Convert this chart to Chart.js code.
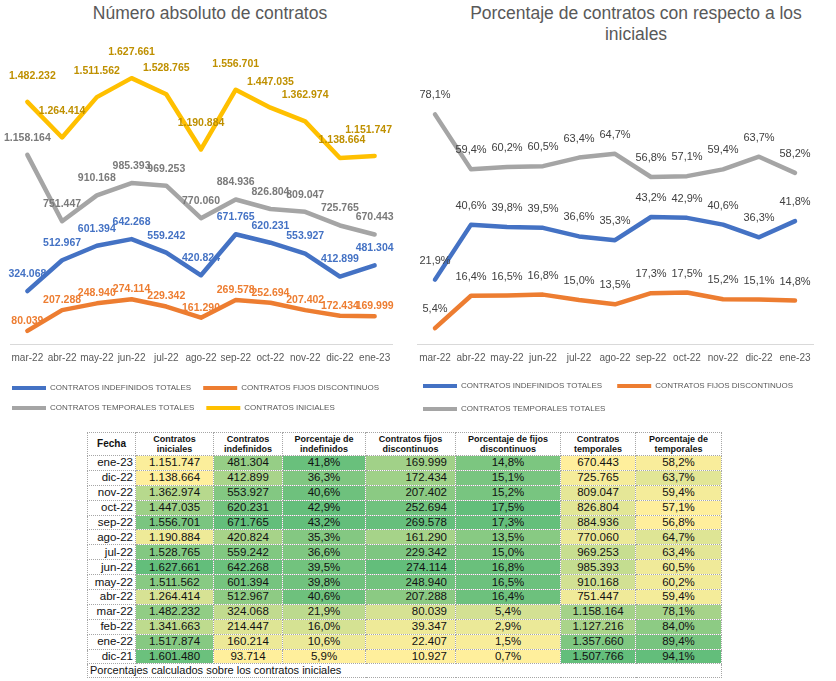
<!DOCTYPE html>
<html lang="es">
<head>
<meta charset="utf-8">
<title>Contratos</title>
<script src="https://cdn.jsdelivr.net/npm/chart.js@4.4.0/dist/chart.umd.min.js"></script>
<style>
  body { margin: 0; background: #fff; width: 836px; height: 681px; position: relative; overflow: hidden;
         font-family: "Liberation Sans", Arial, sans-serif; }
  canvas { position: absolute; top: 0; }
  #absoluto { left: 0; }
  #porcentaje { left: 408px; }
  .titulo { position: absolute; top: 3px; width: 420px; color: #595959; font-size: 17.5px;
            line-height: 21px; text-align: center; white-space: nowrap; }
  #t1 { left: 0; }
  #t2 { left: 426px; }
  table { position: absolute; left: 87px; top: 432px; border-collapse: collapse; table-layout: fixed; width: 634px; }
  th, td { border: 1px dotted #a6a6a6; padding: 0; white-space: nowrap; overflow: hidden; color: #111; }
  th { font-size: 9px; font-weight: bold; line-height: 10px; height: 22px; text-align: center; background: #fff; }
  th.fecha { font-size: 10px; }
  tr.fila td { height: 13.9px; line-height: 13px; font-size: 11.5px; text-align: center; }
  td.fecha { text-align: right !important; padding-right: 2px; background: #fff; }
  td.der { text-align: right !important; padding-right: 8px; }
  td.nota { font-size: 11px; line-height: 13px; height: 13px; text-align: left; padding-left: 2px; }
</style>
</head>
<body>
<div class="titulo" id="t1">Número absoluto de contratos</div>
<div class="titulo" id="t2">Porcentaje de contratos con respecto a los<br>iniciales</div>
<canvas id="absoluto" width="418" height="425"></canvas>
<canvas id="porcentaje" width="418" height="425"></canvas>
<table id="tabla">
  <colgroup>
    <col style="width:48px"><col style="width:78px"><col style="width:69px"><col style="width:83px">
    <col style="width:90px"><col style="width:105px"><col style="width:75px"><col style="width:86px">
  </colgroup>
  <thead>
    <tr>
      <th class="fecha">Fecha</th>
      <th>Contratos<br>iniciales</th>
      <th>Contratos<br>indefinidos</th>
      <th>Porcentaje de<br>indefinidos</th>
      <th>Contratos fijos<br>discontinuos</th>
      <th>Porcentaje de fijos<br>discontinuos</th>
      <th>Contratos<br>temporales</th>
      <th>Porcentaje de<br>temporales</th>
    </tr>
  </thead>
  <tbody></tbody>
</table>
<script>
// meses en orden cronologico
const meses = ['dic-21', 'ene-22', 'feb-22', 'mar-22', 'abr-22', 'may-22', 'jun-22',
               'jul-22', 'ago-22', 'sep-22', 'oct-22', 'nov-22', 'dic-22', 'ene-23'];
const iniciales = [1601480, 1517874, 1341663, 1482232, 1264414, 1511562, 1627661,
                   1528765, 1190884, 1556701, 1447035, 1362974, 1138664, 1151747];
const indefinidos = [93714, 160214, 214447, 324068, 512967, 601394, 642268,
                     559242, 420824, 671765, 620231, 553927, 412899, 481304];
const pctIndefinidos = [5.9, 10.6, 16.0, 21.9, 40.6, 39.8, 39.5, 36.6, 35.3, 43.2, 42.9, 40.6, 36.3, 41.8];
const fijos = [10927, 22407, 39347, 80039, 207288, 248940, 274114,
               229342, 161290, 269578, 252694, 207402, 172434, 169999];
const pctFijos = [0.7, 1.5, 2.9, 5.4, 16.4, 16.5, 16.8, 15.0, 13.5, 17.3, 17.5, 15.2, 15.1, 14.8];
const temporales = [1507766, 1357660, 1127216, 1158164, 751447, 910168, 985393,
                    969253, 770060, 884936, 826804, 809047, 725765, 670443];
const pctTemporales = [94.1, 89.4, 84.0, 78.1, 59.4, 60.2, 60.5, 63.4, 64.7, 56.8, 57.1, 59.4, 63.7, 58.2];

// los graficos empiezan en mar-22
const desde = meses.indexOf('mar-22');

const fmtMiles = v => String(v).replace(/\B(?=(\d{3})+(?!\d))/g, '.');
const fmtPct = v => v.toFixed(1).replace('.', ',') + '%';

// etiquetas de datos encima de cada punto
function etiquetas(formato, fuente) {
    return {
        id: 'etiquetas',
        afterDatasetsDraw(chart) {
            const ctx = chart.ctx;
            const labels = chart.data.labels;
            chart.data.datasets.forEach((ds, i) => {
                const meta = chart.getDatasetMeta(i);
                ctx.save();
                ctx.font = fuente;
                ctx.fillStyle = ds.colorEtiqueta;
                ctx.textAlign = 'center';
                ctx.textBaseline = 'middle';
                meta.data.forEach((p, j) => {
                    const ajuste = (ds.ajustes && ds.ajustes[labels[j]]) || [0, ds.separacion];
                    ctx.fillText(formato(ds.data[j]), p.x + ajuste[0], p.y - ajuste[1]);
                });
                ctx.restore();
            });
        }
    };
}

const serie = (label, data, color, colorEtiqueta, separacion, ajustes) => ({
    label,
    data: data.slice(desde),
    borderColor: color,
    backgroundColor: color,
    borderWidth: 4.5,
    borderJoinStyle: 'round',
    borderCapStyle: 'round',
    pointRadius: 0,
    pointHoverRadius: 0,
    tension: 0,
    fill: false,
    colorEtiqueta,
    separacion,
    ajustes
});

function opciones(maxY, izq, der, altoEje, espacioLeyenda, abajo) {
    return {
        responsive: false,
        animation: false,
        layout: { padding: { top: 50, bottom: abajo, left: 0, right: 0 } },
        plugins: {
            legend: {
                position: 'bottom',
                align: 'start',
                labels: {
                    boxWidth: 34,
                    boxHeight: 4,
                    padding: espacioLeyenda,
                    color: '#595959',
                    font: { family: 'Liberation Sans', size: 8 },
                    generateLabels: c => Chart.defaults.plugins.legend.labels.generateLabels(c)
                        .map(l => ({ ...l, lineWidth: 0 }))
                }
            },
            tooltip: { enabled: false }
        },
        scales: {
            x: {
                offset: true,
                grid: { display: false, drawTicks: false },
                border: { display: true, color: '#D9D9D9', width: 1 },
                ticks: { color: '#595959', font: { family: 'Liberation Sans', size: 10 },
                         padding: 8, maxRotation: 0, autoSkip: false },
                afterFit: s => { s.height = altoEje; }
            },
            y: {
                position: 'left', min: 0, max: maxY,
                ticks: { display: false }, grid: { display: false }, border: { display: false },
                afterFit: s => { s.width = izq; }
            },
            y2: {
                position: 'right', min: 0, max: 1,
                ticks: { display: false }, grid: { display: false }, border: { display: false },
                afterFit: s => { s.width = der; }
            }
        }
    };
}

new Chart(document.getElementById('absoluto'), {
    type: 'line',
    data: {
        labels: meses.slice(desde),
        datasets: [
            serie('CONTRATOS INDEFINIDOS TOTALES', indefinidos, '#4472C4', '#4472C4', 17),
            serie('CONTRATOS FIJOS DISCONTINUOS', fijos, '#ED7D31', '#ED7D31', 10),
            serie('CONTRATOS TEMPORALES TOTALES', temporales, '#A5A5A5', '#7A7A7A', 17),
            serie('CONTRATOS INICIALES', iniciales, '#FFC000', '#BF9000', 26,
                  { 'mar-22': [5, 26], 'dic-22': [2, 18], 'ene-23': [-6, 26] })
        ]
    },
    options: opciones(1800000, 10, 26, 28, 12, 3),
    plugins: [etiquetas(fmtMiles, 'bold 10.5px "Liberation Sans"')]
});

new Chart(document.getElementById('porcentaje'), {
    type: 'line',
    data: {
        labels: meses.slice(desde),
        datasets: [
            serie('CONTRATOS INDEFINIDOS TOTALES', pctIndefinidos, '#4472C4', '#404040', 19),
            serie('CONTRATOS FIJOS DISCONTINUOS', pctFijos, '#ED7D31', '#404040', 19),
            serie('CONTRATOS TEMPORALES TOTALES', pctTemporales, '#A5A5A5', '#404040', 19)
        ]
    },
    options: opciones(100, 9, 13, 23, 15, 2),
    plugins: [etiquetas(fmtPct, '11px "Liberation Sans"')]
});

// tabla con escala de color por columna (amarillo = minimo, verde = maximo)
const columnas = [
    { datos: iniciales, fmt: fmtMiles },
    { datos: indefinidos, fmt: fmtMiles },
    { datos: pctIndefinidos, fmt: fmtPct },
    { datos: fijos, fmt: fmtMiles, clase: 'der' },
    { datos: pctFijos, fmt: fmtPct },
    { datos: temporales, fmt: fmtMiles },
    { datos: pctTemporales, fmt: fmtPct }
];

function escala(v, datos) {
    const min = Math.min(...datos), max = Math.max(...datos);
    const t = (v - min) / (max - min);
    const a = [255, 239, 156], b = [99, 190, 123];
    return 'rgb(' + a.map((c, k) => Math.round(c + (b[k] - c) * t)).join(',') + ')';
}

const cuerpo = document.querySelector('#tabla tbody');
for (let i = meses.length - 1; i >= 0; i--) {
    const tr = document.createElement('tr');
    tr.className = 'fila';
    let html = '<td class="fecha">' + meses[i] + '</td>';
    columnas.forEach(col => {
        html += '<td class="' + (col.clase || '') + '" style="background:' + escala(col.datos[i], col.datos) + '">' +
                col.fmt(col.datos[i]) + '</td>';
    });
    tr.innerHTML = html;
    cuerpo.appendChild(tr);
}
const nota = document.createElement('tr');
nota.innerHTML = '<td class="nota" colspan="8">Porcentajes calculados sobre los contratos iniciales</td>';
cuerpo.appendChild(nota);
</script>
</body>
</html>
